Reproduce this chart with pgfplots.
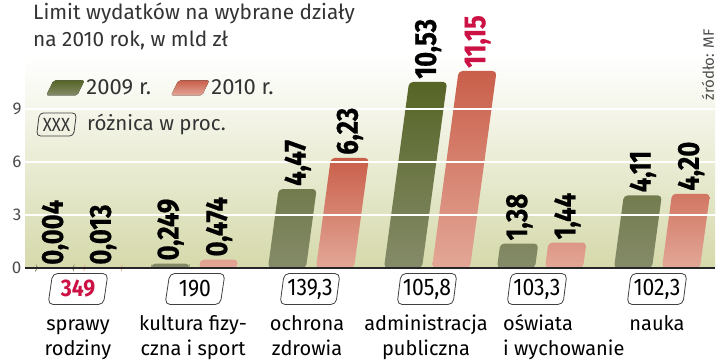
\documentclass[border=0pt]{standalone}
\usepackage{pgfplots}
\pgfplotsset{compat=1.18}
\usepackage{fontspec}
\setmainfont{Fira Sans}
\newfontfamily\valfont{Fira Sans}[FakeStretch=0.84, BoldFeatures={FakeBold=0.6}]
\newfontfamily\boxfont{Fira Sans}[FakeStretch=0.88]
\usetikzlibrary{shapes.geometric}
\definecolor{gtop}{HTML}{566526}
\definecolor{gbot}{HTML}{858B69}
\definecolor{rtop}{HTML}{C95F4A}
\definecolor{rbot}{HTML}{E3A797}
\definecolor{bgc}{HTML}{D5D9AA}
\definecolor{crim}{HTML}{CC1144}
\definecolor{txt}{HTML}{333333}
\newcommand\vfont{\valfont\bfseries\fontsize{30.5}{30.5}\selectfont}
\newcommand\cfont{\fontsize{20}{20}\selectfont}
\newcommand\bfnt{\boxfont\fontsize{24}{24}\selectfont}
\pgfplotsset{
  barbase/.style={ybar, bar width=38, bar shift=#1, draw=none, rounded corners=4pt, xslant=0.135,
    nodes near coords={\pgfplotspointmeta}, point meta=explicit symbolic,
    every node near coord/.style={xshift=#1pt, rotate=90, anchor=west, inner sep=3pt, font=\vfont, text=black},
    legend image code/.code={\fill[##1, xslant=0.35, rounded corners=2pt] (0pt,-7.5pt) rectangle (31pt,7.5pt);}},
  gbar/.style={barbase=-24, top color=gtop, bottom color=gbot},
  rbar/.style={barbase=24, top color=rtop, bottom color=rbot},
}
\tikzset{
  catbox/.style={trapezium, trapezium left angle=80, trapezium right angle=100, trapezium stretches=true,
    draw=black!75, line width=0.8pt, rounded corners=5pt, minimum width=60pt, minimum height=31pt, inner sep=0pt, font=\bfnt},
}
\begin{document}
\begin{tikzpicture}[x=1pt,y=1pt]
\useasboundingbox (0,0) rectangle (720,360);
\begin{axis}[
  at={(25pt,92pt)}, anchor=south west, scale only axis,
  width=690pt, height=212.04pt,
  xmin=25, xmax=715, ymin=0, ymax=12,
  disabledatascaling, clip=false,
  axis line style={draw=none},
  major tick length=0pt,
  xtick=\empty, ytick={0,3,6,9},
  ymajorgrids, grid style={white, line width=1.6pt},
  extra y ticks={0}, extra y tick labels={},
  extra y tick style={grid style={black!85, line width=1.3pt}},
  axis on top,
  axis background/.style={top color=white, bottom color=bgc},
  /pgf/number format/assume math mode=true,
  yticklabel style={font=\fontsize{17}{17}\selectfont, text=black!70},
  legend style={at={(axis cs:46,10.19)}, anchor=west, draw=none, fill=none, inner sep=0pt,
    legend columns=2, font=\fontsize{22}{22}\selectfont\color{txt},
    /tikz/every even column/.append style={column sep=18pt}},
  legend cell align=left,
]
\addplot[gbar] table[x=x, y=y, meta=lab] {
x y lab
79 0.004 {0,004}
194 0.249 {0,249}
311 4.47 {4,47}
427 10.53 {10,53}
540 1.38 {1,38}
657 4.11 {4,11}
};
\addlegendentry{2009 r.}
\addplot[rbar] table[x=x, y=y, meta=lab] {
x y lab
79 0.013 {0,013}
194 0.474 {0,474}
311 6.23 {6,23}
540 1.44 {1,44}
657 4.20 {4,20}
};
\addlegendentry{2010 r.}
\addplot[rbar, forget plot, every node near coord/.append style={text=crim}] table[x=x, y=y, meta=lab] {
x y lab
427 11.15 {11,15}
};
% difference boxes
\node[catbox, text=crim] at ([yshift=-21pt]axis cs:78,0) {\bfseries 349};
\node[catbox] at ([yshift=-21pt]axis cs:195,0) {190};
\node[catbox] at ([yshift=-21pt]axis cs:310,0) {139,3};
\node[catbox] at ([yshift=-21pt]axis cs:427,0) {105,8};
\node[catbox] at ([yshift=-21pt]axis cs:537,0) {103,3};
\node[catbox] at ([yshift=-21pt]axis cs:657,0) {102,3};
% category names
\node[anchor=base, font=\cfont] at ([yshift=-62pt]axis cs:78,0) {sprawy};
\node[anchor=base, font=\cfont] at ([yshift=-87pt]axis cs:78,0) {rodziny};
\node[anchor=base, font=\cfont] at ([yshift=-62pt]axis cs:193,0) {kultura fizy-};
\node[anchor=base, font=\cfont] at ([yshift=-87pt]axis cs:193,0) {czna i sport};
\node[anchor=base, font=\cfont] at ([yshift=-62pt]axis cs:307,0) {ochrona};
\node[anchor=base, font=\cfont] at ([yshift=-87pt]axis cs:307,0) {zdrowia};
\node[anchor=base, font=\cfont] at ([yshift=-62pt]axis cs:426,0) {administracja};
\node[anchor=base, font=\cfont] at ([yshift=-87pt]axis cs:426,0) {publiczna};
\node[anchor=base west, font=\cfont, inner sep=0pt] at ([yshift=-62pt]axis cs:503,0) {oświata};
\node[anchor=base west, font=\cfont, inner sep=0pt] at ([yshift=-87pt]axis cs:503,0) {i wychowanie};
\node[anchor=base, font=\cfont] at ([yshift=-62pt]axis cs:657,0) {nauka};
\end{axis}
% title and notes
\node[anchor=base west, inner sep=0pt, font=\fontsize{20.8}{20.8}\selectfont, text=txt] at (33,341) {Limit wydatków na wybrane działy};
\node[anchor=base west, inner sep=0pt, font=\fontsize{20.8}{20.8}\selectfont, text=txt] at (33,314) {na 2010 rok, w mld zł};
\node[trapezium, trapezium left angle=80, trapezium right angle=100, trapezium stretches=true,
  draw=black!75, line width=0.8pt, rounded corners=4pt, minimum width=40pt, minimum height=23pt, inner sep=0pt,
  font=\boxfont\fontsize{19}{19}\selectfont, text=txt] at (56.5,235.5) {XXX};
\node[anchor=west, inner sep=0pt, font=\fontsize{20.5}{20.5}\selectfont, text=txt] at (87,235.5) {różnica w proc.};
\node[rotate=90, inner sep=0pt, font=\fontsize{15}{15}\selectfont, text=black!70] at (708,295) {źródło: MF};
\end{tikzpicture}
\end{document}
